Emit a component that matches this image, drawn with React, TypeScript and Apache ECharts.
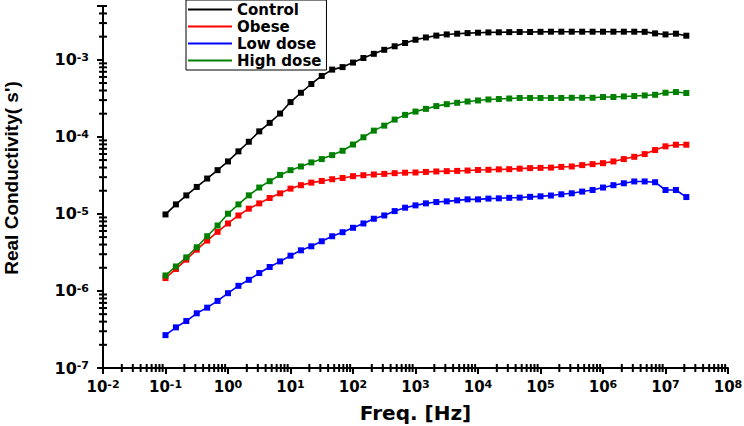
import { useEffect, useRef } from 'react';
import * as echarts from 'echarts';

// Frequency sweep (Hz), six points per decade
const freqHz = [
  0.1, 0.1468, 0.2154, 0.3162, 0.4642, 0.6813,
  1, 1.468, 2.154, 3.162, 4.642, 6.813,
  10, 14.68, 21.54, 31.62, 46.42, 68.13,
  100, 146.8, 215.4, 316.2, 464.2, 681.3,
  1000, 1468, 2154, 3162, 4642, 6813,
  10000, 14680, 21540, 31620, 46420, 68130,
  100000, 146800, 215400, 316200, 464200, 681300,
  1000000, 1468000, 2154000, 3162000, 4642000, 6813000,
  10000000, 14680000, 21540000,
];

const control = [
  9.85e-6, 1.33e-5, 1.74e-5, 2.24e-5, 2.88e-5, 3.7e-5, 4.8e-5, 6.49e-5, 8.65e-5, 1.18e-4,
  1.52e-4, 2.01e-4, 2.83e-4, 3.74e-4, 4.86e-4, 6.18e-4, 7.47e-4, 8.05e-4, 9.22e-4, 1.056e-3,
  1.197e-3, 1.35e-3, 1.5e-3, 1.656e-3, 1.824e-3, 1.954e-3, 2.064e-3, 2.138e-3, 2.185e-3, 2.224e-3,
  2.25e-3, 2.27e-3, 2.28e-3, 2.29e-3, 2.3e-3, 2.3e-3, 2.31e-3, 2.32e-3, 2.32e-3, 2.32e-3,
  2.32e-3, 2.32e-3, 2.32e-3, 2.32e-3, 2.32e-3, 2.32e-3, 2.31e-3, 2.205e-3, 2.138e-3, 2.185e-3,
  2.058e-3,
];

const obese = [
  1.47e-6, 1.93e-6, 2.55e-6, 3.44e-6, 4.51e-6, 5.86e-6, 7.52e-6, 9.55e-6, 1.17e-5, 1.37e-5,
  1.61e-5, 1.85e-5, 2.13e-5, 2.36e-5, 2.55e-5, 2.68e-5, 2.82e-5, 2.93e-5, 3.09e-5, 3.18e-5,
  3.25e-5, 3.31e-5, 3.38e-5, 3.43e-5, 3.45e-5, 3.51e-5, 3.56e-5, 3.59e-5, 3.62e-5, 3.66e-5,
  3.72e-5, 3.74e-5, 3.79e-5, 3.81e-5, 3.87e-5, 3.93e-5, 3.96e-5, 3.99e-5, 4.08e-5, 4.13e-5,
  4.3e-5, 4.43e-5, 4.56e-5, 4.8e-5, 5.15e-5, 5.51e-5, 5.98e-5, 6.75e-5, 7.54e-5, 7.91e-5,
  7.91e-5,
];

const lowDose = [
  2.67e-7, 3.37e-7, 4.07e-7, 5.13e-7, 6.07e-7, 7.43e-7, 9.36e-7, 1.166e-6, 1.396e-6, 1.708e-6,
  2.046e-6, 2.42e-6, 2.87e-6, 3.37e-6, 3.8e-6, 4.42e-6, 5.13e-6, 5.79e-6, 6.61e-6, 7.52e-6,
  8.66e-6, 9.55e-6, 1.088e-5, 1.205e-5, 1.291e-5, 1.371e-5, 1.426e-5, 1.456e-5, 1.5e-5, 1.546e-5,
  1.546e-5, 1.58e-5, 1.594e-5, 1.618e-5, 1.627e-5, 1.667e-5, 1.692e-5, 1.733e-5, 1.797e-5, 1.852e-5,
  1.95e-5, 2.045e-5, 2.2e-5, 2.36e-5, 2.5e-5, 2.64e-5, 2.64e-5, 2.58e-5, 2.045e-5, 2.045e-5,
  1.656e-5,
];

const highDose = [
  1.59e-6, 2.08e-6, 2.73e-6, 3.69e-6, 5.13e-6, 7.08e-6, 1.006e-5, 1.33e-5, 1.743e-5, 2.2e-5,
  2.66e-5, 3.21e-5, 3.7e-5, 4.13e-5, 4.66e-5, 5.15e-5, 5.8e-5, 6.6e-5, 7.96e-5, 9.88e-5,
  1.205e-4, 1.4e-4, 1.677e-4, 1.93e-4, 2.13e-4, 2.31e-4, 2.51e-4, 2.66e-4, 2.77e-4, 2.88e-4,
  2.97e-4, 3.06e-4, 3.1e-4, 3.15e-4, 3.2e-4, 3.2e-4, 3.2e-4, 3.2e-4, 3.2e-4, 3.22e-4,
  3.22e-4, 3.22e-4, 3.29e-4, 3.29e-4, 3.35e-4, 3.39e-4, 3.45e-4, 3.52e-4, 3.74e-4, 3.82e-4,
  3.71e-4,
];

const seriesNames = ['Control', 'Obese', 'Low dose', 'High dose'];
const seriesColors = ['#000000', '#ff0000', '#0000ff', '#008000'];

// Decade ticks with labels
const xDecades = [1e-2, 1e-1, 1, 1e1, 1e2, 1e3, 1e4, 1e5, 1e6, 1e7, 1e8];
const yDecades = [1e-7, 1e-6, 1e-5, 1e-4, 1e-3];

const X_MIN = 1e-2;
const X_MAX = 1e8;
const Y_MIN = 1e-7;
const Y_MAX = 5e-3;

// 2..9 sub-decade ticks between the decades
function subDecadeTicks(lo: number, hi: number): number[] {
  const out: number[] = [];
  for (let d = Math.round(Math.log10(lo)); d < Math.round(Math.log10(hi)) + 1; d++) {
    for (let m = 2; m <= 9; m++) {
      const v = Number((m * Math.pow(10, d)).toPrecision(6));
      if (v > lo && v <= hi * 1.0001) out.push(v);
    }
  }
  return out;
}

const FONT = 'DejaVu Sans';
const MAJOR_LEN = 6;
const MINOR_LEN = 4;

export default function App() {
  const ref = useRef<HTMLDivElement>(null);

  useEffect(() => {
    if (!ref.current) return;
    const chart = echarts.init(ref.current, null, { renderer: 'svg' });

    const powLabel = (v: number) => `{b|10}{e|${Math.round(Math.log10(v))}}`;
    const rich = (size: number) => ({
      b: {
        fontFamily: FONT,
        fontWeight: 'bold',
        fontSize: size,
        color: '#000',
        lineHeight: size,
        verticalAlign: 'bottom',
        padding: [6, 0, 0, 0],
      },
      e: {
        fontFamily: FONT,
        fontWeight: 'bold',
        fontSize: 11,
        color: '#000',
        lineHeight: 11,
        verticalAlign: 'top',
      },
    });

    const axisLine = { show: true, onZero: false, lineStyle: { color: '#000', width: 2 } };
    const majorTick = {
      show: true,
      inside: false,
      length: MAJOR_LEN,
      lineStyle: { color: '#000', width: 2 },
    };

    const option: any = {
      animation: false,
      backgroundColor: '#ffffff',
      grid: { left: 103, right: 16, top: 6, bottom: 58, containLabel: false, outerBoundsMode: 'none' },
      legend: {
        orient: 'vertical',
        left: 186,
        top: 0,
        padding: [2, 5, 2, 2],
        itemGap: 2,
        itemWidth: 44,
        itemHeight: 2,
        borderColor: '#000',
        borderWidth: 1,
        borderRadius: 0,
        icon: 'rect',
        data: seriesNames,
        textStyle: {
          fontFamily: FONT,
          fontWeight: 'bold',
          fontSize: 15,
          color: '#000',
          lineHeight: 15,
        },
      },
      xAxis: {
        type: 'log',
        logBase: 10,
        min: X_MIN,
        max: X_MAX,
        interval: 1,
        position: 'bottom',
        axisLine,
        axisTick: majorTick,
        minorTick: { show: false },
        axisLabel: {
          customValues: xDecades,
          margin: 11,
          formatter: (v: number) => powLabel(v),
          rich: rich(15),
        },
        splitLine: { show: false },
        name: 'Freq. [Hz]',
        nameLocation: 'middle',
        nameGap: 35,
        nameTextStyle: { fontFamily: FONT, fontWeight: 'bold', fontSize: 20, color: '#000' },
      },
      yAxis: {
        type: 'log',
        logBase: 10,
        min: Y_MIN,
        max: Y_MAX,
        interval: 1,
        position: 'left',
        axisLine,
        axisTick: majorTick,
        minorTick: { show: false },
        axisLabel: {
          customValues: yDecades,
          margin: 14,
          formatter: (v: number) => powLabel(v),
          rich: rich(16),
        },
        splitLine: { show: false },
        name: "Real Conductivity( s')",
        nameLocation: 'middle',
        nameGap: 82,
        nameTextStyle: {
          fontFamily: 'Liberation Sans',
          fontWeight: 'bold',
          fontSize: 19,
          color: '#000',
          padding: [0, 0, 0, 18],
        },
      },
      series: [
        ...[control, obese, lowDose, highDose].map((vals, i) => ({
          name: seriesNames[i],
          type: 'line',
          data: freqHz.map((f, k) => [f, vals[k]]),
          symbol: 'rect',
          symbolSize: 6,
          showSymbol: true,
          color: seriesColors[i],
          itemStyle: { color: seriesColors[i] },
          lineStyle: { color: seriesColors[i], width: 1.6 },
          emphasis: { disabled: true },
        })),
        // short sub-decade ticks along the bottom axis
        {
          type: 'scatter',
          name: 'xMinorTicks',
          silent: true,
          clip: false,
          z: 10,
          symbol: 'rect',
          symbolSize: [2, MINOR_LEN * 2],
          itemStyle: { color: '#000', opacity: 1 },
          data: subDecadeTicks(X_MIN, X_MAX).map((v) => [v, Y_MIN]),
          emphasis: { disabled: true },
        },
        // short sub-decade ticks along the left axis
        {
          type: 'scatter',
          name: 'yMinorTicks',
          silent: true,
          clip: false,
          z: 10,
          symbol: 'rect',
          symbolSize: [MINOR_LEN * 2, 2],
          itemStyle: { color: '#000', opacity: 1 },
          data: subDecadeTicks(Y_MIN, Y_MAX).map((v) => [X_MIN, v]),
          emphasis: { disabled: true },
        },
      ],
    };

    chart.setOption(option);
    return () => chart.dispose();
  }, []);

  return (
    <div
      ref={ref}
      style={{ position: 'fixed', left: 0, top: 0, width: 744, height: 426, background: '#fff' }}
    />
  );
}
